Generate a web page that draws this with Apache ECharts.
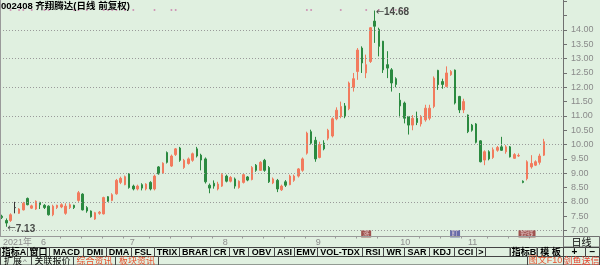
<!DOCTYPE html>
<html><head><meta charset="utf-8">
<script src="https://cdn.jsdelivr.net/npm/echarts@6.0.0/dist/echarts.min.js"></script>
<style>html,body{margin:0;padding:0;background:#E0F0E0;}#c{width:600px;height:265px;}</style>
</head><body><div id="c"></div>
<script>
// ---- data ----
const titleText = '002408 齐翔腾达(日线 前复权)';
const mayDays = [19,20,21,24,25,26,27,28,31];
const junDays = [1,2,3,4,7,8,9,10,11,15,16,17,18,21,22,23,24,25,28,29,30];
const julDays = [1,2,5,6,7,8,9,12,13,14,15,16,19,20,21,22,23,26,27,28,29,30];
const augDays = [2,3,4,5,6,9,10,11,12,13,16,17,18,19,20,23,24,25,26,27,30,31];
const sepDays = [1,2,3,6,7,8,9,10,13,14,15,16,17,22,23,24,27,28,29,30];
const octDays = [8,11,12,13,14,15,18,19,20,21,22,25,26,27,28,29];
const novDays = [1,2,3,4,5,8,9,10,11,12,15,16,17,18,19,22,23,24,25];
const emptySlots = 4;

const open = [7.50,7.35,7.35,7.80,7.60,7.72,8.12,7.78,7.75,7.98, 7.88,7.85,7.55,7.80,7.82,7.60,7.80,7.88,8.05,8.27,
 7.80,7.68,7.40,7.60,7.58,8.18,8.05,8.28,8.68,8.60, 8.98,8.55,8.45,8.60,8.45,8.68,8.45,9.22,9.00,9.72,
 9.25,9.65,9.88,9.20,9.34,9.45,9.85,9.63,9.50,8.58, 8.65,8.45,8.55,8.90,8.72,8.80,8.50,8.68,8.87,8.78,
 9.28,9.10,9.45,9.20,8.66,8.75,8.42,8.70,8.60,8.75, 8.90,9.10,9.70,10.45,10.15,9.55,10.05,10.22,10.30,10.90,
 10.98,11.35,11.25,12.00,12.55,13.37,12.50,12.90,14.31,14.02, 13.61,12.79,12.61,12.30,11.55,11.45,10.98,10.68,10.92,10.72,
 10.86,10.92,11.33,12.59,12.20,12.03,12.44,12.60,11.68,11.21, 11.03,10.68,10.72,10.13,9.46,9.75,9.55,9.80,9.92,9.75,
 9.92,9.52,9.60,8.72,8.81,9.22,9.28,9.38,9.63];
const close = [7.45,7.26,7.55,7.80,7.75,7.95,7.90,7.86,8.02,7.90, 7.80,7.55,7.85,7.88,7.90,7.85,7.90,7.80,8.32,7.72,
 7.68,7.48,7.62,7.64,8.15,8.02,8.25,8.75,8.82,8.88, 8.50,8.45,8.55,8.48,8.62,8.45,8.90,8.98,9.35,9.38,
 9.60,9.85,9.45,9.45,9.50,9.68,9.60,9.46,8.70,8.48, 8.55,8.62,8.95,8.72,8.85,8.55,8.72,8.95,8.76,9.20,
 9.10,9.38,9.10,8.70,8.80,8.45,8.55,8.58,8.90,8.90, 9.15,9.50,10.40,10.05,9.50,10.00,9.85,10.50,10.90,11.20,
 11.33,11.00,12.15,12.30,13.30,12.85,12.79,14.08,14.13,13.43, 12.61,12.67,12.15,12.10,11.35,10.92,10.68,10.92,10.77,10.98,
 11.27,11.27,12.32,12.09,12.10,12.50,12.55,11.45,11.21,11.50, 10.45,10.50,10.08,9.40,9.75,9.50,9.82,9.90,9.80,9.92,
 9.57,9.65,9.62,8.68,9.40,9.34,9.40,9.60,10.10];
const low = [7.40,7.13,7.30,7.60,7.58,7.70,7.88,7.75,7.72,7.75, 7.75,7.52,7.50,7.75,7.78,7.55,7.75,7.75,8.00,7.70,
 7.62,7.45,7.37,7.55,7.56,8.00,8.02,8.25,8.62,8.58, 8.46,8.40,8.40,8.40,8.40,8.40,8.40,8.95,8.98,9.34,
 9.22,9.60,9.40,9.15,9.30,9.40,9.55,9.10,8.64,8.30, 8.46,8.40,8.52,8.68,8.68,8.46,8.46,8.64,8.72,8.75,
 9.05,9.08,9.05,8.66,8.62,8.34,8.38,8.52,8.58,8.70, 8.85,9.05,9.65,10.00,9.40,9.52,9.80,10.15,10.25,10.85,
 10.92,10.92,11.20,11.85,12.26,12.50,12.32,12.85,13.55,13.08, 12.50,12.32,11.85,12.00,10.95,10.74,10.35,10.50,10.68,10.63,
 10.80,10.85,11.27,11.91,11.95,12.00,12.40,11.40,11.10,11.10, 10.40,10.45,10.04,9.38,9.28,9.45,9.50,9.75,9.78,9.68,
 9.55,9.50,9.57,8.65,8.75,9.16,9.25,9.30,9.60];
const high = [7.55,7.42,7.60,8.00,7.78,8.00,8.15,7.90,8.05,8.00, 7.92,7.88,7.90,7.90,7.95,7.95,7.95,7.90,8.38,8.30,
 7.85,7.70,7.65,7.68,8.18,8.20,8.30,8.80,8.88,8.92, 9.00,8.60,8.60,8.65,8.65,8.72,8.95,9.25,9.38,9.76,
 9.65,9.88,9.92,9.50,9.55,9.72,9.92,9.68,9.55,8.64, 8.75,8.70,9.00,8.95,8.90,8.85,8.75,9.00,8.90,9.25,
 9.32,9.42,9.50,9.25,8.85,8.80,8.60,8.76,8.95,8.95, 9.18,9.55,10.45,10.52,10.27,10.10,10.15,10.55,10.95,11.30,
 11.50,11.45,12.20,12.50,13.37,13.43,13.14,14.10,14.68,14.08, 13.62,13.26,12.67,12.35,11.80,11.50,11.00,11.03,11.15,11.03,
 11.39,11.39,12.38,12.61,12.30,12.73,12.60,12.62,11.70,11.60, 11.05,10.72,10.75,10.15,9.80,9.80,9.90,9.95,10.27,9.98,
 9.95,9.70,9.69,8.75,9.45,9.63,9.45,9.68,10.20];

const gridValues = [7,8,9,10,11,12,13,14];
const extremeMarks = [[88, 14.68], [1, 7.13]];
const infoDotIdx = [2,4,5,7,10,11,17,18,20,24,25,26,27,29,31,36,40,41,72,73,80,86,89,92,93,94,95];
const infoDotLevel = 14.70;
const eventIcons = [
  {idx: 25, text: '§', kind: 'glyph'},
  {idx: 86, text: '涨', kind: 'red'},
  {idx: 91, text: '§', kind: 'glyph'},
  {idx: 107, text: '盯', kind: 'blue'},
  {idx: 124, text: '短线', kind: 'red'}
];
const eventLevel = 6.88;
const tabNames = ['指标A','窗口','MACD','DMI','DMA','FSL','TRIX','BRAR','CR','VR','OBV','ASI','EMV','VOL-TDX','RSI','WR','SAR','KDJ','CCI','>'];
const tabEdges = [0,27,49,83,106,131,154,179,210,229,248,274,294,317,362,383,404,429,454,476,485];
const bottomTabs = ['扩展','关联报价','综合资讯','板块资讯'];
const bottomEdges = [0,31,73,115,158];

// ---- build ----
const categories = [];
const monthLabels = {};
[[5,mayDays],[6,junDays],[7,julDays],[8,augDays],[9,sepDays],[10,octDays],[11,novDays]].forEach(([m,ds])=>{
  ds.forEach((d,k)=>{
    if (k===0) monthLabels[categories.length] = categories.length===0 ? '2021年' : String(m);
    categories.push('2021-'+m+'-'+d);
  });
});
for (let i=0;i<emptySlots;i++) categories.push('');
const monthStarts = Object.keys(monthLabels).map(Number);
const weekTicks = new Set();
monthStarts.forEach((s,k)=>{
  const end = k+1<monthStarts.length ? monthStarts[k+1] : open.length;
  for (let j=s+5;j<end;j+=5) if (k>0) weekTicks.add(j);
});
const kData = open.map((o,i)=>[o, close[i], low[i], high[i]]);

const BG = '#E0F0E0';
const UP = '#F27B5E', DOWN = '#2B8A40';
const chart = echarts.init(document.getElementById('c'));

const graphics = [];
function gRect(x,y,w,h,fill,stroke){
  graphics.push({type:'rect', silent:true, z:100, shape:{x:x,y:y,width:w,height:h}, style:{fill:fill||BG, stroke:stroke||'#555', lineWidth:1}});
}
function gLine(x1,y1,x2,y2,color){
  graphics.push({type:'line', silent:true, z:100, shape:{x1,y1,x2,y2}, style:{stroke:color, lineWidth:1}});
}
function gText(t,x,y,color,font,align){
  graphics.push({type:'text', silent:true, z:101, x:x, y:y, style:{text:t, fill:color, font:font, align:align||'center', verticalAlign:'middle', textAlign:align||'center', textVerticalAlign:'middle'}});
}
const tabFont = 'bold 9px "Liberation Sans","Noto Sans CJK SC"';
// title
gText(titleText, 1, 6.5, '#000', 'bold 9.5px "Liberation Sans","Noto Sans CJK SC"', 'left');
// frame lines
gLine(0.5,0,0.5,236,'#9a9a9a');
gLine(563.5,0,563.5,265,'#707070');
gLine(0,236.5,600,236.5,'#9a9a9a');
// right-panel day cell
gRect(563.5,236.5,36,10.5,BG,'#707070');
gText('日线',581.5,242,'#000','10px "Noto Sans CJK SC"');
// tab row
for (let i=0;i<tabNames.length;i++){
  gRect(tabEdges[i]+0.5,247.5,tabEdges[i+1]-tabEdges[i],9,BG,'#444');
  gText(tabNames[i],(tabEdges[i]+tabEdges[i+1])/2+0.5,252.2,'#000',tabFont);
}
gRect(485.5,247.5,24.5,9,BG,'#444');
gRect(510.5,247.5,26.5,9,BG,'#444'); gText('指标B',524,252.2,'#000',tabFont);
gRect(537.5,247.5,26,9,BG,'#444'); gText('模 板',550.5,252.2,'#000',tabFont);
gRect(563.5,247.5,22,9,BG,'#444'); gText('+',574.5,252,'#000','bold 10px "Liberation Sans"');
gRect(585.5,247.5,14,9,BG,'#444'); gText('−',592.5,252,'#000','bold 10px "Liberation Sans"');
// bottom row
const bottomColors = ['#000','#000','#E8502C','#E8502C'];
for (let i=0;i<bottomTabs.length;i++){
  gRect(bottomEdges[i]+0.5,256.5,bottomEdges[i+1]-bottomEdges[i],8.5,BG,'#444');
  const cx = (bottomEdges[i]+bottomEdges[i+1])/2+0.5;
  gText(bottomTabs[i], i===0 ? cx-3 : cx, 261,bottomColors[i],'9px "Noto Sans CJK SC"');
}
gText('^',25,262,'#777','8px "Liberation Sans"');
gRect(158.5,256.5,369,8.5,BG,'#444');
gRect(527.5,256.5,36,8.5,BG,'#444'); gText('图文F10',545.5,261,'#E8502C','9px "Liberation Sans","Noto Sans CJK SC"');
gRect(563.5,256.5,36,8.5,BG,'#444'); gText('剑鱼送信',581.5,261,'#E8402C','9px "Noto Sans CJK SC"');

const option = {
  animation: false,
  backgroundColor: BG,
  textStyle: {fontFamily: '"Liberation Sans","Noto Sans CJK SC"'},
  grid: [
    {left: 0, width: 563, top: 1.36, height: 243.46},
    {left: 0, width: 563, top: 236.5, height: 10.5}
  ],
  xAxis: [
    {type: 'category', gridIndex: 0, data: categories, show: false, boundaryGap: true},
    {type: 'category', gridIndex: 1, data: categories, position: 'top', boundaryGap: true,
     axisLine: {show: false},
     axisTick: {show: true, inside: true, length: 10.5, interval: (i)=> monthLabels[i] !== undefined && i>0, lineStyle: {color: '#9a9a9a'}},
     axisLabel: {show: true, inside: true, margin: 1.5, interval: (i)=> monthLabels[i] !== undefined,
       formatter: (v, i)=> monthLabels[i] || '', align: 'left', verticalAlign: 'top', color: '#8c8c8c', fontSize: 9, fontFamily: '"Liberation Sans","Noto Sans CJK SC"'},
     splitLine: {show: false}},
    {type: 'category', gridIndex: 1, data: categories, position: 'top', boundaryGap: true,
     axisLine: {show: false}, axisLabel: {show: false}, splitLine: {show: false},
     axisTick: {show: true, inside: true, length: 2, interval: (i)=> weekTicks.has(i), lineStyle: {color: '#9a9a9a'}}}
  ],
  yAxis: [
    {type: 'value', gridIndex: 0, position: 'right', min: 6.5, max: 15, interval: 0.5,
     splitLine: {show: false},
     axisLine: {show: true, lineStyle: {color: '#707070'}},
     axisTick: {show: true, length: 4, lineStyle: {color: '#707070'}},
     axisLabel: {color: '#8a8a8a', fontSize: 9, margin: 8, fontFamily: '"Liberation Sans"',
       formatter: (v)=> (v >= 7 && v <= 14) ? v.toFixed(2) : ''}},
    {type: 'value', gridIndex: 1, show: false, min: 0, max: 1}
  ],
  series: [
    {type: 'candlestick', xAxisIndex: 0, yAxisIndex: 0, data: kData, barWidth: 2,
     itemStyle: {color: UP, color0: DOWN, borderColor: UP, borderColor0: DOWN, borderColorDoji: '#333', borderWidth: 1},
     markLine: {silent: true, symbol: 'none', label: {show: false}, animation: false,
       lineStyle: {color: '#9a9a9a', type: [1, 2], width: 1},
       data: gridValues.map(v=>({yAxis: v}))}},
    {type: 'scatter', xAxisIndex: 0, yAxisIndex: 0, symbolSize: 2, itemStyle: {color: '#C87AA8'},
     data: infoDotIdx.map(i=>[i, infoDotLevel]), z: 3},
    {type: 'scatter', xAxisIndex: 0, yAxisIndex: 0, symbolSize: 0, z: 5,
     data: extremeMarks,
     label: {show: true, position: 'right', distance: 1, offset: [0, 2],
       formatter: (p)=> '{a|←}{b|' + p.value[1].toFixed(2) + '}',
       rich: {a: {fontFamily: 'DejaVu Sans', fontSize: 10, color: '#222'},
              b: {fontFamily: 'Liberation Sans', fontWeight: 'bold', fontSize: 10, color: '#222'}}}},
    {type: 'scatter', xAxisIndex: 0, yAxisIndex: 0, z: 5,
     data: eventIcons.map(e=>({
       value: [e.idx, eventLevel],
       symbol: e.kind === 'glyph' ? 'none' : 'rect',
       symbolSize: e.kind === 'glyph' ? 0 : [e.text.length*7+3, 7],
       itemStyle: {color: e.kind === 'blue' ? '#4A4A9A' : '#8E2A2A'},
       label: {show: true, position: 'inside', formatter: e.text,
         color: e.kind === 'glyph' ? '#F06060' : '#F4E0E0', fontSize: e.kind === 'glyph' ? 8 : 6.5,
         fontFamily: '"Noto Sans CJK SC"'}
     }))}
  ],
  graphic: graphics
};
chart.setOption(option);
</script></body></html>
